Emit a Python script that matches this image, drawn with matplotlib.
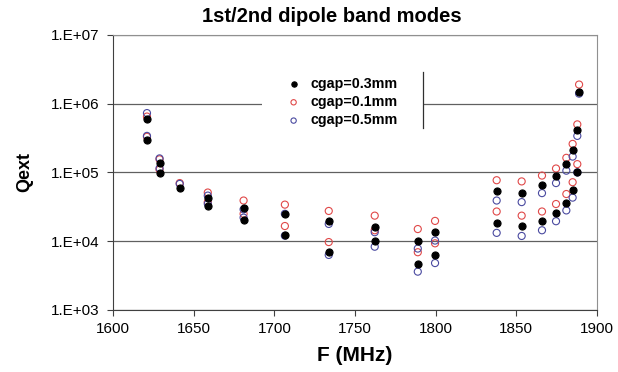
import numpy as np
import matplotlib
matplotlib.use("Agg")
import matplotlib.pyplot as plt
from matplotlib.ticker import FixedLocator, FuncFormatter, NullLocator

plt.rcParams['font.family'] = ['Liberation Sans', 'DejaVu Sans']

# frequencies (MHz) of the measured dipole modes, upper and lower branch
freq = [1621, 1628.8, 1641.3, 1658.7, 1680.9, 1706.5, 1733.7, 1762.2, 1788.9,
        1799.6, 1837.8, 1853.3, 1865.9, 1874.6, 1881.0, 1884.9, 1887.8, 1888.9]

# Qext, upper branch / lower branch (None where no point)
q03_hi = [6.0e5, 1.35e5, 5.9e4, 4.2e4, 3.0e4, 2.5e4, 1.95e4, 1.6e4, 1.0e4,
          1.35e4, 5.3e4, 5.1e4, 6.5e4, 8.8e4, 1.32e5, 2.1e5, 4.1e5, 1.46e6]
q03_lo = [2.95e5, 9.9e4, None, 3.2e4, 2.0e4, 1.23e4, 7.0e3, 9.9e3, 4.6e3,
          6.2e3, 1.84e4, 1.65e4, 1.95e4, 2.55e4, 3.6e4, 5.5e4, 1.03e5, None]

q01_hi = [6.5e5, 1.55e5, 7.0e4, 5.1e4, 3.9e4, 3.4e4, 2.75e4, 2.35e4, 1.5e4,
          1.97e4, 7.7e4, 7.4e4, 9.0e4, 1.14e5, 1.63e5, 2.6e5, 5.0e5, 1.9e6]
q01_lo = [3.3e5, 1.1e5, None, 3.7e4, 2.5e4, 1.66e4, 9.7e3, 1.44e4, 6.9e3,
          9.3e3, 2.7e4, 2.35e4, 2.7e4, 3.47e4, 4.85e4, 7.2e4, 1.32e5, None]

q05_hi = [7.3e5, 1.6e5, 6.8e4, 4.6e4, 2.9e4, 2.5e4, 1.78e4, 1.35e4, 7.8e3,
          1.02e4, 3.9e4, 3.7e4, 5.0e4, 7.0e4, 1.06e5, 1.7e5, 3.4e5, 1.4e6]
q05_lo = [3.4e5, 1.15e5, None, 3.5e4, 2.2e4, 1.2e4, 6.3e3, 8.3e3, 3.6e3,
          4.8e3, 1.32e4, 1.19e4, 1.44e4, 1.95e4, 2.8e4, 4.3e4, 1.0e5, None]

labels = ["cgap=0.3mm", "cgap=0.1mm", "cgap=0.5mm"]
y_ticks = [1e3, 1e4, 1e5, 1e6, 1e7]
x_ticks = [1600, 1650, 1700, 1750, 1800, 1850, 1900]


def pts(hi, lo):
    f = [x for x, q in zip(freq, hi) if q is not None] + \
        [x for x, q in zip(freq, lo) if q is not None]
    q = [q for q in hi if q is not None] + [q for q in lo if q is not None]
    return np.array(f), np.array(q)


fig = plt.figure(figsize=(6.18, 3.72), dpi=100)
ax = fig.add_axes([0.183, 0.167, 0.783, 0.739])

red = "#e04848"
blue = "#4a4aa0"
ms = 26

f, q = pts(q03_hi, q03_lo)
ax.scatter(f, q, s=ms, facecolor="black", edgecolor="black", lw=0.8,
           label=labels[0], zorder=4)
f, q = pts(q01_hi, q01_lo)
ax.scatter(f, q, s=ms, facecolor="none", edgecolor=red, lw=0.8,
           label=labels[1], zorder=3)
f, q = pts(q05_hi, q05_lo)
ax.scatter(f, q, s=ms, facecolor="none", edgecolor=blue, lw=0.8,
           label=labels[2], zorder=3)

ax.set_yscale("log")
ax.set_ylim(1e3, 1e7)
ax.set_xlim(1600, 1900)
ax.yaxis.set_major_locator(FixedLocator(y_ticks))
ax.yaxis.set_minor_locator(NullLocator())
ax.yaxis.set_major_formatter(FuncFormatter(lambda v, p: "1.E+%02d" % round(np.log10(v))))
ax.xaxis.set_major_locator(FixedLocator(x_ticks))

ax.grid(True, axis="y", color="#606060", lw=0.9)
ax.set_axisbelow(True)
for s in ["top", "right"]:
    ax.spines[s].set_color("#909090")
    ax.spines[s].set_linewidth(0.8)
for s in ["left", "bottom"]:
    ax.spines[s].set_color("#404040")
ax.tick_params(direction="out", length=4, width=0.8, labelsize=11, color="#404040")
ax.tick_params(axis="y", pad=6)
ax.tick_params(axis="x", pad=5)

fig.text(0.537, 0.955, "1st/2nd dipole band modes", fontsize=14.5,
         fontweight="bold", ha="center", va="center")
ax.set_xlabel("F (MHz)", fontsize=15, fontweight="bold", va="center")
ax.xaxis.set_label_coords(0.5, -0.165)
ax.set_ylabel("Qext", fontsize=13, fontweight="bold", va="center")
ax.yaxis.set_label_coords(-0.182, 0.5)

leg = ax.legend(loc="upper left", bbox_to_anchor=(0.308, 0.5, 0.333, 0.40),
                mode="expand", borderaxespad=0,
                frameon=True, facecolor="white", edgecolor="none", framealpha=1,
                fancybox=False, prop={"weight": "bold", "size": 10.3},
                handletextpad=0.0, handlelength=2.4, labelspacing=0.3,
                borderpad=1.0, markerscale=0.75)
leg.set_zorder(5)

# leftover edge of the legend frame, as in the original
ax.plot([0.64, 0.64], [0.662, 0.865], transform=ax.transAxes, color="#303030",
        lw=0.9, zorder=6)

fig.savefig("out.png", dpi=100)
